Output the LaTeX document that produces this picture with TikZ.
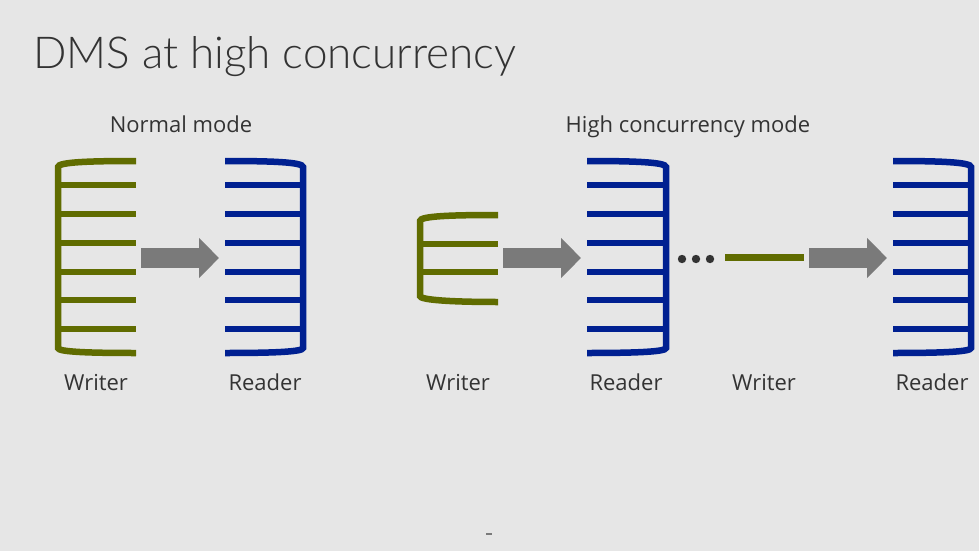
\documentclass[tikz,border=0pt]{standalone}
\usepackage{fontspec}
\setmainfont{Open Sans}
\IfFontExistsTF{Lato Light}{\newfontfamily\titlefont{Lato Light}}{\newfontfamily\titlefont{Lato}}
\usetikzlibrary{arrows.meta}
\definecolor{bgc}{RGB}{230,230,230}
\definecolor{olivec}{RGB}{96,108,0}
\definecolor{bluec}{RGB}{0,32,145}
\definecolor{arrowc}{RGB}{122,122,122}
\definecolor{textc}{RGB}{51,51,51}
\tikzset{
  wline/.style={draw=olivec, line width=6.5pt},
  rline/.style={draw=bluec, line width=6.5pt},
  fatarrow/.style={draw=arrowc, line width=20pt, -{Triangle[length=20pt,width=39pt]}},
  lbl/.style={text=textc, font=\fontsize{22}{26}\selectfont, anchor=base, inner sep=0pt},
  hdr/.style={text=textc, font=\fontsize{22}{24}\selectfont, anchor=base, inner sep=0pt},
  dotc/.style={fill=textc, draw=none}
}
\begin{document}
\begin{tikzpicture}[x=1pt, y=-1pt]
\fill[bgc] (0,0) rectangle (979,551);
\useasboundingbox (0,0) rectangle (979,551);

% title
\node[text=textc, font=\titlefont\fontsize{44}{48}\selectfont, anchor=base west, inner sep=0pt] (title) at (33,68) {DMS at high concurrency};
\node[hdr] (hnormal) at (181,132) {Normal mode};
\node[hdr] (hhigh) at (688,132) {High concurrency mode};

% Normal mode writer
\draw[wline] (136,161) .. controls (90,161) and (58,162) .. (58,167) -- (58,348) .. controls (58,352) and (90,353) .. (136,353);
\foreach \y in {185,214,243,272,300,329} \draw[wline] (58,\y) -- (136,\y);
% Normal mode reader
\draw[rline] (225,161) .. controls (270,161) and (303,162) .. (303,167) -- (303,348) .. controls (303,352) and (270,353) .. (225,353);
\foreach \y in {185,214,243,272,300,329} \draw[rline] (225,\y) -- (303,\y);

% High concurrency writer (small)
\draw[wline] (498,215) .. controls (452,215) and (420,216) .. (420,221) -- (420,296) .. controls (420,300) and (452,302) .. (498,302);
\foreach \y in {244,272} \draw[wline] (420,\y) -- (498,\y);
% reader 2
\draw[rline] (587,161) .. controls (632,161) and (666,162) .. (666,167) -- (666,348) .. controls (666,352) and (632,353) .. (587,353);
\foreach \y in {185,214,243,272,300,329} \draw[rline] (587,\y) -- (666,\y);
% dots
\foreach \x in {682,696,710} \fill[dotc] (\x,259) circle (4.2pt);
% writer 3 (line)
\draw[wline] (725,257.5) -- (804,257.5);
% reader 3
\draw[rline] (893,161) .. controls (938,161) and (971,162) .. (971,167) -- (971,348) .. controls (971,352) and (938,353) .. (893,353);
\foreach \y in {185,214,243,272,300,329} \draw[rline] (893,\y) -- (971,\y);

% arrows
\coordinate (a1s) at (141,258); \coordinate (a1e) at (219,258);
\coordinate (a2s) at (503,258); \coordinate (a2e) at (581,258);
\coordinate (a3s) at (809,258); \coordinate (a3e) at (887,258);
\draw[fatarrow] (a1s) -- (a1e);
\draw[fatarrow] (a2s) -- (a2e);
\draw[fatarrow] (a3s) -- (a3e);

% labels
\node[lbl] (w1) at (96,390) {Writer};
\node[lbl] (r1) at (265,390) {Reader};
\node[lbl] (w2) at (458,390) {Writer};
\node[lbl] (r2) at (626,390) {Reader};
\node[lbl] (w3) at (764,390) {Writer};
\node[lbl] (r3) at (932,390) {Reader};

% slide number placeholder
\fill[arrowc] (486,533) rectangle (492,535);
\end{tikzpicture}
\end{document}
